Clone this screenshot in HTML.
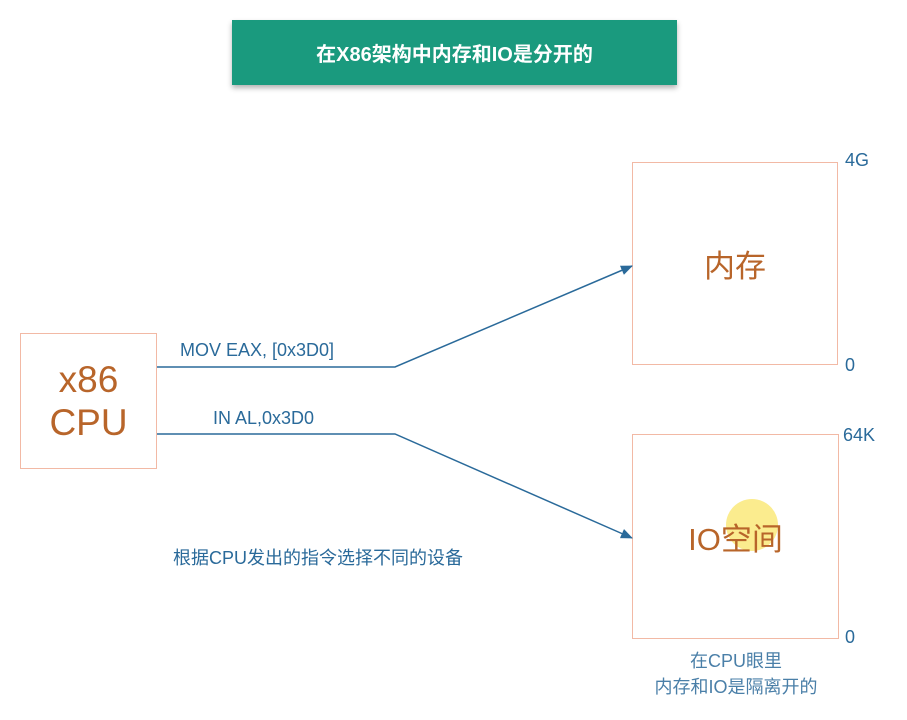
<!DOCTYPE html>
<html><head><meta charset="utf-8"><style>
body{margin:0;width:907px;height:720px;background:#fff;position:relative;overflow:hidden;font-family:"Liberation Sans","Noto Sans CJK SC",sans-serif}
.a{position:absolute}
.t{left:232px;top:20px;width:445px;height:65px;background:#1a9a7e;color:#fff;font-size:20px;font-weight:bold;display:flex;align-items:center;justify-content:center;box-shadow:0 3px 5px rgba(0,0,0,.3)}
.box{border:1.5px solid #f2b9a5;box-sizing:border-box;display:flex;align-items:center;justify-content:center;color:#b8652a}
.lb{color:#2a6a9a;font-size:18px}
</style></head><body>
<div class="a t">在X86架构中内存和IO是分开的</div>
<div class="a box" style="left:20px;top:333px;width:137px;height:136px;font-size:37px;line-height:43px;text-align:center">x86<br>CPU</div>
<div class="a box" style="left:632px;top:162px;width:206px;height:203px;font-size:31px">内存</div>
<div class="a" style="left:726px;top:499px;width:52px;height:52px;border-radius:50%;background:#fbec8e"></div>
<div class="a box" style="left:632px;top:434px;width:207px;height:205px;font-size:31px;background:transparent">IO空间</div>
<div class="a lb" style="left:845px;top:150px">4G</div>
<div class="a lb" style="left:845px;top:355px">0</div>
<div class="a lb" style="left:843px;top:425px">64K</div>
<div class="a lb" style="left:845px;top:627px">0</div>
<div class="a lb" style="left:180px;top:340px">MOV EAX, [0x3D0]</div>
<div class="a lb" style="left:213px;top:408px">IN AL,0x3D0</div>
<div class="a lb" style="left:173px;top:544px">根据CPU发出的指令选择不同的设备</div>
<div class="a lb" style="left:636px;top:648px;width:200px;text-align:center;line-height:26px;color:#4a7fa8">在CPU眼里<br>内存和IO是隔离开的</div>
<svg class="a" style="left:0;top:0" width="907" height="720">
<defs><marker id="m" markerWidth="12" markerHeight="12" refX="11" refY="6" orient="auto" markerUnits="userSpaceOnUse"><path d="M0,1L12,6L0,11z" fill="#2a6a9a"/></marker></defs>
<polyline points="157,367 395,367 632,266" fill="none" stroke="#2a6a9a" stroke-width="1.5" marker-end="url(#m)"/>
<polyline points="157,434 395,434 632,538" fill="none" stroke="#2a6a9a" stroke-width="1.5" marker-end="url(#m)"/>
</svg>
</body></html>
